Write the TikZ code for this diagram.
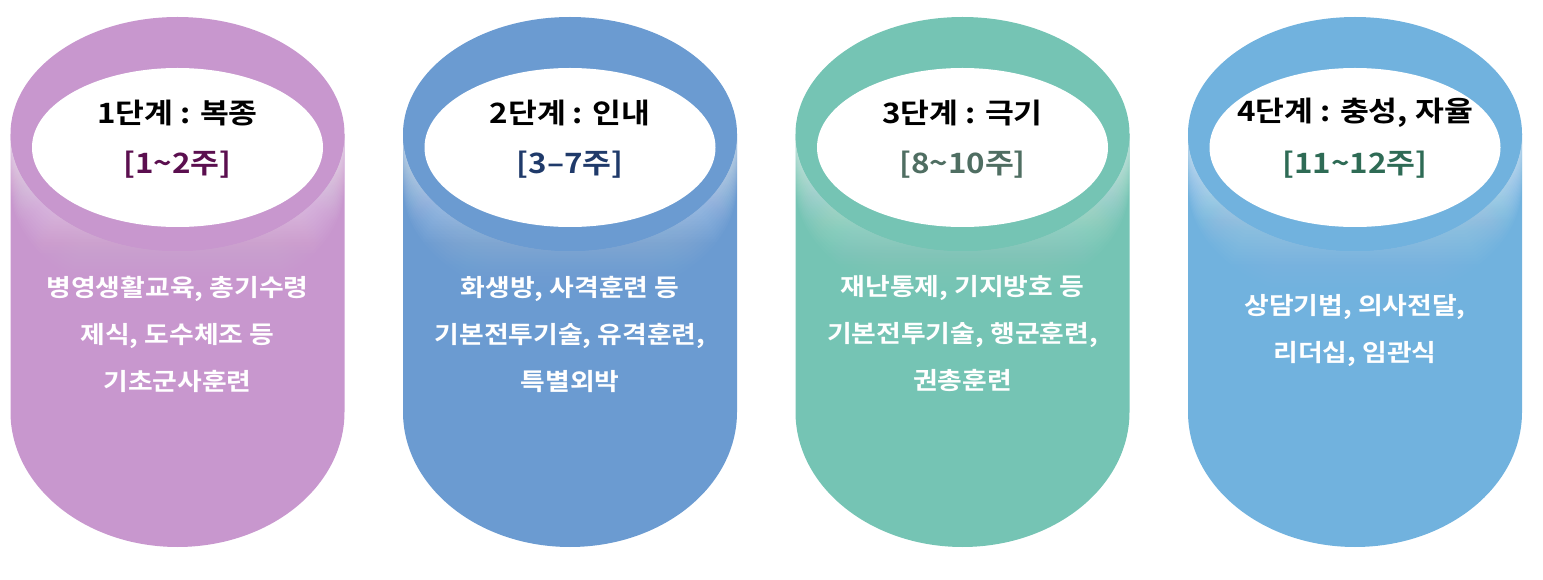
\documentclass[tikz,border=0pt]{standalone}
\usepackage{fontspec}
\setmainfont{Noto Sans CJK KR}[BoldFont={* Bold}, FakeStretch=1.12]
\usepackage{tikz}
\usetikzlibrary{fadings}
\definecolor{stageone}{RGB}{200,151,206}
\definecolor{stagetwo}{RGB}{107,155,209}
\definecolor{stagethree}{RGB}{117,196,180}
\definecolor{stagefour}{RGB}{113,178,222}
\definecolor{weekone}{RGB}{91,15,79}
\definecolor{weektwo}{RGB}{31,58,106}
\definecolor{weekthree}{RGB}{79,110,98}
\definecolor{weekfour}{RGB}{46,107,85}

\begin{document}
\begin{tikzpicture}[
  x=1pt, y=1pt,
  title/.style={font=\fontsize{28}{32}\selectfont\bfseries, text=black},
  weeks/.style={font=\fontsize{28}{32}\selectfont\bfseries},
  detail/.style={font=\fontsize{24}{47}\selectfont\bfseries, text=white, align=center}
]
  \useasboundingbox (0,0) rectangle (1543,579);

  % cylinders
  \foreach \cx/\col in {177.5/stageone, 570/stagetwo, 962.5/stagethree, 1355/stagefour}{
    \fill[\col] (\cx-167,445) -- (\cx-167,167)
      arc[start angle=180, end angle=360, x radius=167, y radius=135] -- (\cx+167,445) -- cycle;
    \foreach \d in {4,8,...,52}{
      \fill[white, fill opacity=0.06, path fading=south]
        (\cx-167,445) arc[start angle=180, end angle=360, x radius=167, y radius=117]
        -- ++(0,-\d) arc[start angle=0, end angle=-180, x radius=167, y radius=117] -- cycle;
    }
    \fill[\col] (\cx,445) ellipse[x radius=167, y radius=117];
    \fill[white] (\cx,431.5) ellipse[x radius=145.5, y radius=79.5];
  }

  \node[title] (t1) at (177.5,466) {1단계 : 복종};
  \node[weeks, text=weekone] (w1) at (177.5,414) {[1\textasciitilde 2주]};
  \node[detail] (d1) at (177.5,245) {병영생활교육, 총기수령\\제식, 도수체조 등\\기초군사훈련};

  \node[title] (t2) at (570,466) {2단계 : 인내};
  \node[weeks, text=weektwo] (w2) at (570,414) {[3--7주]};
  \node[detail] (d2) at (570,245) {화생방, 사격훈련 등\\기본전투기술, 유격훈련,\\특별외박};

  \node[title] (t3) at (962.5,466) {3단계 : 극기};
  \node[weeks, text=weekthree] (w3) at (962.5,414) {[8\textasciitilde 10주]};
  \node[detail] (d3) at (962.5,245) {재난통제, 기지방호 등\\기본전투기술, 행군훈련,\\권총훈련};

  \node[title] (t4) at (1355,466) {4단계 : 충성, 자율};
  \node[weeks, text=weekfour] (w4) at (1355,414) {[11\textasciitilde 12주]};
  \node[detail] (d4) at (1355,248) {상담기법, 의사전달,\\리더십, 임관식};
\end{tikzpicture}
\end{document}
